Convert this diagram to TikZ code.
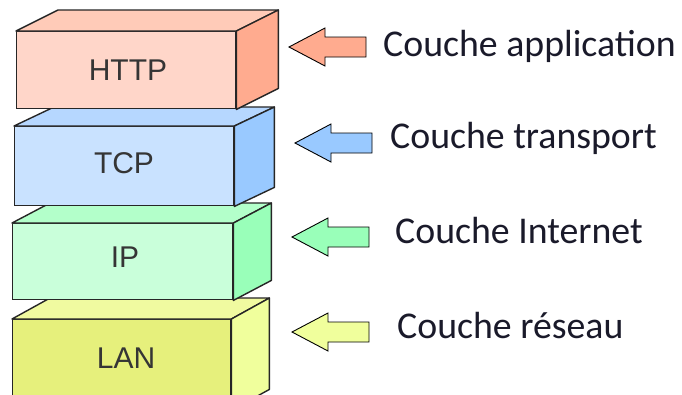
\documentclass[tikz,border=0pt]{standalone}
\usepackage{fontspec}
\setmainfont{Carlito}
\newfontfamily\boxfont{Liberation Sans}
\usetikzlibrary{calc}

% layer colours: front face, top face, side face / arrow fill
\definecolor{httpfront}{HTML}{FFD6C9}
\definecolor{httptop}{HTML}{FFCBB8}
\definecolor{httpside}{HTML}{FFAB8F}
\definecolor{tcpfront}{HTML}{C9E2FF}
\definecolor{tcptop}{HTML}{B6D7FF}
\definecolor{tcpside}{HTML}{99C9FF}
\definecolor{ipfront}{HTML}{C9FFDA}
\definecolor{iptop}{HTML}{B3FFCA}
\definecolor{ipside}{HTML}{99FFB9}
\definecolor{lanfront}{HTML}{E6F07C}
\definecolor{lantop}{HTML}{F0FAA0}
\definecolor{lanside}{HTML}{F0FF9C}
\definecolor{boxtext}{HTML}{353535}
\definecolor{labeltext}{HTML}{1A1A2A}

\tikzset{
  frontface/.style={draw=black!85, line width=1.4pt, inner sep=0pt, anchor=north west},
  face/.style={draw=black!85, line width=1.4pt, line join=round},
  boxlabel/.style={anchor=base, inner sep=0pt, text=boxtext,
    font=\boxfont\fontsize{30}{33}\selectfont},
  layerlabel/.style={anchor=base west, inner sep=0pt, text=labeltext,
    font=\fontsize{37.8}{40}\selectfont},
  layerarrow/.pic={
    \path[draw=black, line width=0.9pt, line join=miter, pic actions]
      (0,0) -- (36,-19) -- (36,-10) -- (77,-10) -- (77,10) -- (36,10) -- (36,19) -- cycle;
  }
}

% one 3-D block: front node name, its top-left corner, width, height, depth vector, colours
\newcommand\layerblock[8]{%
  \node[frontface, fill=#6, minimum width=#3pt, minimum height=#4pt] (#1) at #2 {};
  \draw[face, fill=#7] (#1.north west) -- ($(#1.north west)+#5$)
    -- ($(#1.north east)+#5$) -- (#1.north east) -- cycle;
  \draw[face, fill=#8] (#1.north east) -- ($(#1.north east)+#5$)
    -- ($(#1.south east)+#5$) -- (#1.south east) -- cycle;
}

\begin{document}
\begin{tikzpicture}[x=1pt, y=-1pt]
  \useasboundingbox (0,0) rectangle (682,394);
  \fill[white] (0,0) rectangle (682,394);

  \begin{scope}
    \clip (0,0) rectangle (682,394);
    % blocks, drawn from the bottom of the stack upwards
    \layerblock{lan}{(12,319)}{218}{90}{(38,-21)}{lanfront}{lantop}{lanside}
    \layerblock{ip}{(12,223)}{220}{76}{(38,-20)}{ipfront}{iptop}{ipside}
    \layerblock{tcp}{(14,126)}{219}{79}{(40,-19)}{tcpfront}{tcptop}{tcpside}
    \layerblock{http}{(16,31)}{219}{77}{(42,-21)}{httpfront}{httptop}{httpside}
  \end{scope}

  % protocol names on the front faces
  \node[boxlabel] (thttp) at (128,80) {HTTP};
  \node[boxlabel] (ttcp) at (124,173) {TCP};
  \node[boxlabel] (tip) at (125,267) {IP};
  \node[boxlabel] (tlan) at (126,368) {LAN};

  % pointer arrows
  \pic[fill=httpside] at (289,47) {layerarrow};
  \pic[fill=tcpside] at (295,143) {layerarrow};
  \pic[fill=ipside] at (292,237) {layerarrow};
  \pic[fill=lanside] at (292,332) {layerarrow};

  % layer names
  \node[layerlabel] (lapp) at (383,56) {Couche application};
  \node[layerlabel] (ltrans) at (390,148) {Couche transport};
  \node[layerlabel] (linet) at (395,243) {Couche Internet};
  \node[layerlabel] (lres) at (397,338) {Couche réseau};
\end{tikzpicture}
\end{document}
